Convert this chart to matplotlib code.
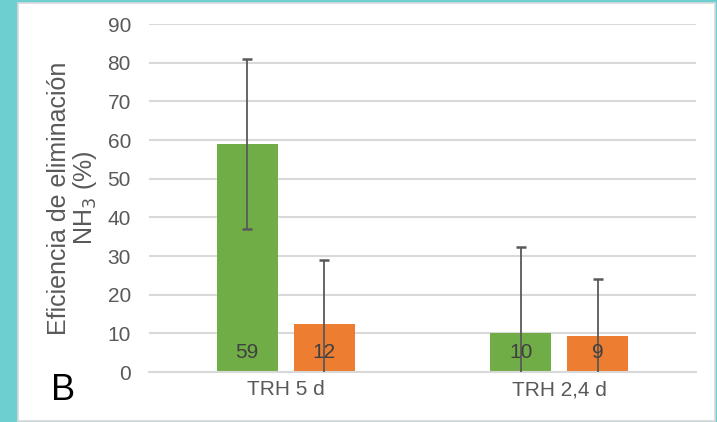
import matplotlib
matplotlib.use("Agg")
import matplotlib.pyplot as plt
from matplotlib.patches import Rectangle
import numpy as np

categories = ["TRH 5 d", "TRH 2,4 d"]
series_a = [59.0, 10.2]
series_b = [12.4, 9.4]
err_a = [21.9, 22.1]
err_b = [16.6, 14.6]
yticks = [0, 10, 20, 30, 40, 50, 60, 70, 80, 90]

plt.rcParams['font.family'] = ['Liberation Sans', 'DejaVu Sans']

fig = plt.figure(figsize=(7.17, 4.22), dpi=100)
fig.patch.set_facecolor('#6dcfd0')
fig.patches.append(Rectangle((18/717, 1 - 421/422), (715-18)/717, (421-2.5)/422,
                             transform=fig.transFigure, facecolor='white',
                             edgecolor='#d9d9d9', linewidth=1.2, zorder=-10))

ax = fig.add_axes([149/717, 1 - 372/422, (696-149)/717, (372-24)/422])
ax.set_zorder(1)
ax.set_facecolor('none')
x = np.arange(len(categories))
w = 0.223
off = 0.141
green = '#70ad47'
orange = '#ed7d31'
ax.bar(x - off, series_a, w, color=green, zorder=2)
ax.bar(x + off, series_b, w, color=orange, zorder=2)
ekw = dict(fmt='none', ecolor='#595959', elinewidth=1.3, capsize=3.3, capthick=1.8, zorder=3)
ax.errorbar(x - off, series_a, yerr=err_a, **ekw)
ax.errorbar(x + off, series_b, yerr=err_b, **ekw)

for xi, v in zip(x - off, series_a):
    ax.annotate(f"{v:.0f}", xy=(xi, 0), xytext=(0, 14.4), textcoords='offset points',
                ha='center', va='center', fontsize=15, color='#404040', zorder=4)
for xi, v in zip(x + off, series_b):
    ax.annotate(f"{v:.0f}", xy=(xi, 0), xytext=(0, 14.4), textcoords='offset points',
                ha='center', va='center', fontsize=15, color='#404040', zorder=4)

ax.set_xlim(-0.5, 1.5)
ax.set_ylim(0, 90)
ax.set_yticks(yticks)
ax.set_xticks(x)
ax.set_xticklabels(categories)
ax.tick_params(axis='both', length=0, labelsize=15, labelcolor='#595959')
ax.tick_params(axis='y', pad=13)
ax.tick_params(axis='x', pad=6)
ax.grid(axis='y', color='#d9d9d9', linewidth=1.5, zorder=0)
ax.set_axisbelow(True)
for s in ['top', 'right', 'left']:
    ax.spines[s].set_visible(False)
ax.spines['bottom'].set_color('#d9d9d9')
ax.spines['bottom'].set_linewidth(1.5)

fig.text(73/717, 1 - 198/422, "Eficiencia de eliminación\nNH$_3$ (%)", rotation=90,
         ha='center', va='center', fontsize=18, color='#595959', linespacing=1.0,
         multialignment='center')
fig.text(63/717, 1 - 390/422, "B", ha='center', va='center', fontsize=26, color='black')

fig.savefig("out.png", dpi=100, facecolor=fig.get_facecolor())
